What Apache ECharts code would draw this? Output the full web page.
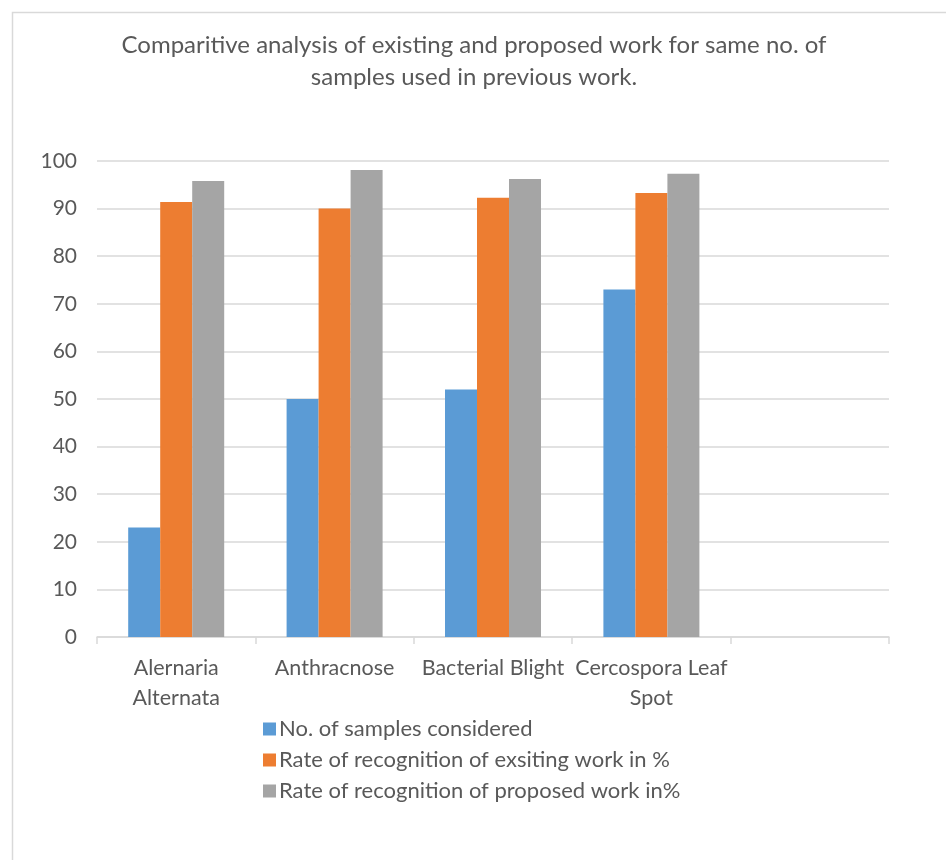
<!DOCTYPE html>
<html>
<head>
<meta charset="utf-8">
<script src="https://cdn.jsdelivr.net/npm/echarts@6/dist/echarts.min.js"></script>
<style>
html,body{margin:0;padding:0;background:#fff;}
#c{width:946px;height:860px;}
</style>
</head>
<body>
<div id="c"></div>
<script>
const categories = ['Alernaria\nAlternata', 'Anthracnose', 'Bacterial Blight', 'Cercospora Leaf\nSpot', ''];
const samplesConsidered = [23, 50, 52, 73, null];
const existingRate = [91.4, 90.0, 92.3, 93.3, null];
const proposedRate = [95.8, 98.1, 96.2, 97.3, null];
const seriesNames = ['No. of samples considered', 'Rate of recognition of exsiting work in %', 'Rate of recognition of proposed work in%'];
const yTicks = [0, 10, 20, 30, 40, 50, 60, 70, 80, 90, 100];

const FONT = 'Lato';
const TXT = '#595959';
const chart = echarts.init(document.getElementById('c'));
chart.setOption({
  animation: false,
  textStyle: { fontFamily: FONT },
  graphic: [{
    type: 'rect', left: 10, top: 10, silent: true,
    shape: { width: 960, height: 880 },
    style: { fill: 'none', stroke: '#d9d9d9', lineWidth: 1.5 }
  }],
  title: {
    text: 'Comparitive analysis of existing and proposed work for same no. of\nsamples used in previous work.',
    left: 469, top: 24, textAlign: 'center',
    textStyle: { fontFamily: FONT, fontWeight: 'normal', fontSize: 24, color: TXT, lineHeight: 32 }
  },
  legend: {
    orient: 'vertical', left: 258, top: 713,
    itemWidth: 13, itemHeight: 13, itemGap: 9, icon: 'rect',
    textStyle: { fontFamily: FONT, fontSize: 22, color: TXT, padding: [0,0,0,-2] },
    data: seriesNames
  },
  grid: { left: 97, right: 57, top: 161, bottom: 223, containLabel: false },
  xAxis: {
    type: 'category', data: categories,
    axisLine: { lineStyle: { color: '#d9d9d9', width: 1.5 } },
    axisTick: { show: true, length: 7, lineStyle: { color: '#d9d9d9', width: 1.5 } },
    axisLabel: { interval: 0, fontFamily: FONT, fontSize: 21.5, color: TXT, lineHeight: 30, margin: 16 }
  },
  yAxis: {
    type: 'value', min: 0, max: 100, interval: 10,
    axisLine: { show: false }, axisTick: { show: false },
    axisLabel: { fontFamily: FONT, fontSize: 21, color: TXT, margin: 20,
      formatter: v => yTicks.includes(v) ? String(v) : '' },
    splitLine: { lineStyle: { color: '#d9d9d9', width: 1.5 } }
  },
  series: [
    { name: seriesNames[0], type: 'bar', data: samplesConsidered, barWidth: 32, barGap: '0%', itemStyle: { color: '#5b9bd5' } },
    { name: seriesNames[1], type: 'bar', data: existingRate, barWidth: 32, barGap: '0%', itemStyle: { color: '#ed7d31' } },
    { name: seriesNames[2], type: 'bar', data: proposedRate, barWidth: 32, barGap: '0%', itemStyle: { color: '#a5a5a5' } }
  ]
});
</script>
</body>
</html>
